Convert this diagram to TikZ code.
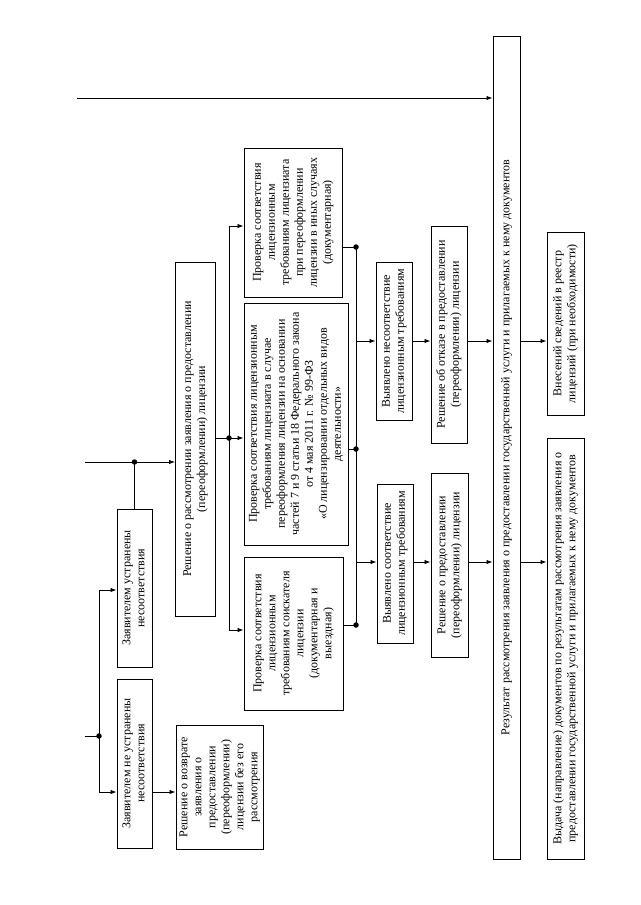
\documentclass[tikz,border=0pt]{standalone}
\usepackage{fontspec}
\setmainfont{Liberation Serif}
\usetikzlibrary{arrows.meta}
\newcommand\rottext[1]{\rotatebox{90}{\begin{tabular}{@{}c@{}}#1\end{tabular}}}
\begin{document}
\begin{tikzpicture}[x=1pt,y=-1pt,
  box/.style={draw, line width=1pt, inner sep=0pt, font=\fontsize{12}{14}\selectfont},
  conn/.style={line width=0.9pt},
  arr/.style={conn, -{Latex[length=6pt,width=4.5pt]}},
  dot/.style={circle, fill, inner sep=0pt, minimum size=5.5pt}]
\useasboundingbox[fill=white] (0,0) rectangle (640,905);

% boxes
\node[box, minimum width=27pt, minimum height=823pt] (R) at (506.5,447.5)
  {\rottext{Результат рассмотрения заявления о предоставлении государственной услуги и прилагаемых к нему документов}};
\node[box, minimum width=98pt, minimum height=149pt] (A) at (293,222.5)
  {\rottext{Проверка соответствия\\лицензионным\\требованиям лицензиата\\при переоформлении\\лицензии в иных случаях\\(документарная)}};
\node[box, minimum width=104pt, minimum height=242pt] (B) at (296,424)
  {\rottext{Проверка соответствия лицензионным\\требованиям лицензиата в случае\\переоформления лицензии на основании\\частей 7 и 9 статьи 18 Федерального закона\\от 4 мая 2011 г. № 99-ФЗ\\«О лицензировании отдельных видов\\деятельности»}};
\node[box, minimum width=99pt, minimum height=153pt] (C) at (293.5,633.5)
  {\rottext{Проверка соответствия\\лицензионным\\требованиям соискателя\\лицензии\\(документарная и\\выездная)}};
\node[box, minimum width=39.5pt, minimum height=354pt] (P) at (195.25,439)
  {\rottext{Решение о рассмотрении заявления о предоставлении\\(переоформлении) лицензии}};
\node[box, minimum width=35pt, minimum height=158pt] (U) at (134.5,588)
  {\rottext{Заявителем устранены\\несоответствия}};
\node[box, minimum width=35pt, minimum height=169pt] (N) at (134.5,763.5)
  {\rottext{Заявителем не устранены\\несоответствия}};
\node[box, minimum width=87pt, minimum height=124pt] (V) at (219.5,787)
  {\rottext{Решение о возврате\\заявления о\\предоставлении\\(переоформлении)\\лицензии без его\\рассмотрения}};
\node[box, minimum width=36pt, minimum height=158pt] (VN) at (394,341)
  {\rottext{Выявлено несоответствие\\лицензионным требованиям}};
\node[box, minimum width=36pt, minimum height=159pt] (VS) at (395,563.5)
  {\rottext{Выявлено соответствие\\лицензионным требованиям}};
\node[box, minimum width=36pt, minimum height=217pt] (O) at (449,334.5)
  {\rottext{Решение об отказе в предоставлении\\(переоформлении) лицензии}};
\node[box, minimum width=37pt, minimum height=184pt] (Pr) at (449.5,565)
  {\rottext{Решение о предоставлении\\(переоформлении) лицензии}};
\node[box, minimum width=37pt, minimum height=183pt] (Vn) at (565.5,323.5)
  {\rottext{Внесений сведений в реестр\\лицензий (при необходимости)}};
\node[box, minimum width=37pt, minimum height=421pt] (Vy) at (565.5,648.5)
  {\rottext{Выдача (направление) документов по результатам рассмотрения заявления о\\предоставлении государственной услуги и прилагаемых к нему документов}};

% top arrow
\coordinate (t0) at (77,98);
\draw[arr] (t0) -- (R.west |- t0);

% left part
\coordinate (l1) at (84.5,462);
\node[dot] (d1) at (134.5,462) {};
\draw[arr] (l1) -- (P.west |- l1);
\draw[conn] (U.north) -- (d1.center);
\coordinate (l2) at (84.5,736);
\node[dot] (d2) at (99,736) {};
\draw[conn] (l2) -- (d2.center);
\coordinate (yU) at (0,590);
\coordinate (yN) at (0,792);
\draw[arr] (d2.center) |- (U.west |- yU);
\draw[arr] (d2.center) |- (N.west |- yN);
\draw[arr] (N.east |- yN) -- (V.west |- yN);

% from decision to checks
\coordinate (yP) at (0,438);
\node[dot] (d3) at (229,438) {};
\draw[conn] (P.east |- yP) -- (d3.center);
\draw[arr] (d3.center) -- (B.west |- yP);
\coordinate (yA) at (0,226);
\coordinate (yC) at (0,630);
\draw[arr] (d3.center) |- (A.west |- yA);
\draw[arr] (d3.center) |- (C.west |- yC);

% right collector
\node[dot] (e1) at (356,247) {};
\node[dot] (e2) at (356,449) {};
\node[dot] (e3) at (356,625) {};
\draw[conn] (A.east |- e1) -- (e1.center);
\draw[conn] (B.east |- e2) -- (e2.center);
\draw[conn] (C.east |- e3) -- (e3.center);
\draw[conn] (e1.center) -- (e3.center);

\coordinate (y1) at (0,341);
\coordinate (y2) at (0,562);
\draw[arr] (e1.center |- y1) -- (VN.west |- y1);
\draw[arr] (VN.east |- y1) -- (O.west |- y1);
\draw[arr] (O.east |- y1) -- (R.west |- y1);
\draw[arr] (R.east |- y1) -- (Vn.west |- y1);
\draw[arr] (e1.center |- y2) -- (VS.west |- y2);
\draw[arr] (VS.east |- y2) -- (Pr.west |- y2);
\draw[arr] (Pr.east |- y2) -- (R.west |- y2);
\draw[arr] (R.east |- y2) -- (Vy.west |- y2);
\end{tikzpicture}
\end{document}
